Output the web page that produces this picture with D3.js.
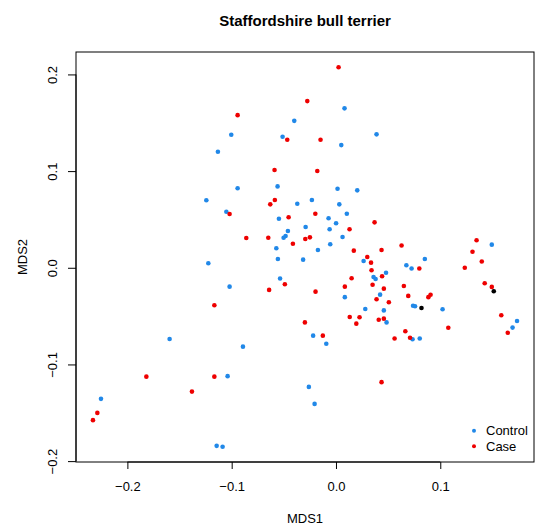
<!DOCTYPE html>
<html>
<head>
<meta charset="utf-8">
<script src="https://cdn.jsdelivr.net/npm/d3@7"></script>
<style>
  body { margin: 0; background: #fff; }
  text { font-family: Helvetica, Arial, "Liberation Sans", sans-serif; }
</style>
</head>
<body>
<svg id="mds"></svg>
<script>
// MDS coordinates, [MDS1, MDS2]
var controlPts = [
  [-0.1004, 0.1376], [-0.1132, 0.1200], [-0.0943, 0.0822], [-0.1243, 0.0698],
  [-0.1051, 0.0580], [-0.1224, 0.0047], [-0.1020, -0.0195], [-0.1595, -0.0736],
  [-0.0892, -0.0816], [-0.1039, -0.1121], [-0.2253, -0.1356], [-0.1144, -0.1842],
  [-0.1087, -0.1852], [0.0082, 0.1649], [-0.0400, 0.1520], [-0.0512, 0.1355],
  [0.0389, 0.1380], [0.0051, 0.1269], [-0.0560, 0.0842], [0.0015, 0.0818],
  [0.0204, 0.0801], [-0.0371, 0.0663], [-0.0231, 0.0701], [0.0032, 0.0656],
  [0.0104, 0.0559], [-0.0547, 0.0507], [-0.0071, 0.0512], [0.0001, 0.0460],
  [-0.0291, 0.0422], [-0.0061, 0.0398], [-0.0461, 0.0380], [-0.0483, 0.0329],
  [-0.0502, 0.0311], [0.0063, 0.0318], [-0.0055, 0.0243], [-0.0572, 0.0202],
  [-0.0173, 0.0184], [-0.0557, 0.0091], [-0.0315, 0.0084], [0.0265, 0.0070],
  [0.0480, -0.0051], [0.0360, -0.0095], [0.0380, -0.0116], [-0.0536, -0.0111],
  [0.0675, 0.0026], [0.0725, -0.0007], [0.0852, 0.0091], [0.1494, 0.0239],
  [0.0085, -0.0304], [0.0423, -0.0278], [0.0281, -0.0426], [0.0459, -0.0441],
  [0.0485, -0.0565], [-0.0219, -0.0702], [-0.0093, -0.0786], [-0.0260, -0.1232],
  [-0.0205, -0.1408], [0.0739, -0.0393], [0.0758, -0.0398], [0.1022, -0.0429],
  [0.0734, -0.0739], [0.0803, -0.0731], [0.1736, -0.0550], [0.1693, -0.0619]
];
var casePts = [
  [-0.0943, 0.1579], [-0.1020, 0.0556], [-0.0860, 0.0308], [-0.0649, 0.0311],
  [-0.0630, 0.0656], [-0.0641, -0.0229], [-0.1166, -0.0388], [-0.1818, -0.1126],
  [-0.1166, -0.1126], [-0.1381, -0.1281], [-0.2288, -0.1501], [-0.2330, -0.1576],
  [0.0025, 0.2075], [-0.0275, 0.1724], [-0.0467, 0.1324], [-0.0148, 0.1324],
  [-0.0589, 0.1011], [-0.0179, 0.1001], [-0.0586, 0.0701], [-0.0454, 0.0522],
  [-0.0198, 0.0559], [0.0370, 0.0470], [0.0130, 0.0398], [-0.0294, 0.0298],
  [-0.0250, 0.0315], [-0.0413, 0.0249], [0.0171, 0.0177], [0.0437, 0.0184],
  [0.0629, 0.0230], [0.0300, 0.0112], [0.0336, 0.0053], [0.0341, -0.0025],
  [0.0442, -0.0088], [0.0150, -0.0109], [0.0799, -0.0008], [0.1348, 0.0284],
  [0.1309, 0.0166], [0.1398, 0.0065], [0.1235, 0.0001], [0.0351, -0.0175],
  [-0.0490, -0.0170], [-0.0196, -0.0247], [0.0085, -0.0195], [0.0389, -0.0325],
  [0.0459, -0.0216], [0.0507, -0.0357], [0.0132, -0.0509], [0.0226, -0.0512],
  [0.0195, -0.0578], [0.0410, -0.0537], [0.0459, -0.0526], [-0.0298, -0.0565],
  [-0.0126, -0.0702], [0.0437, -0.1183], [0.0651, -0.0188], [0.0693, -0.0291],
  [0.0886, -0.0304], [0.0907, -0.0279], [0.1077, -0.0620], [0.0665, -0.0656],
  [0.0562, -0.0731], [0.0710, -0.0724], [0.1426, -0.0160], [0.1494, -0.0198],
  [0.1585, -0.0491], [0.1647, -0.0672]
];
var otherPts = [[0.0820, -0.0416], [0.1513, -0.0243]];

var xTicks = [-0.2, -0.1, 0.0, 0.1];
var yTicks = [-0.2, -0.1, 0.0, 0.1, 0.2];
var legendLabels = ["Control", "Case"];

var W = 536, H = 530;
var margin = { top: 52, right: 2, bottom: 68, left: 76 };
var width = W - margin.left - margin.right,
  height = H - margin.top - margin.bottom;

var blue = "#2188e8", red = "#ee0000";

var allPts = controlPts.concat(casePts, otherPts);

// R style: data range plus 4% on each side
function rRange(vals) {
  var e = d3.extent(vals), pad = (e[1] - e[0]) * 0.04;
  return [e[0] - pad, e[1] + pad];
}

var x = d3.scaleLinear()
  .domain(rRange(allPts.map(function (d) { return d[0]; })))
  .range([0, width]);
var y = d3.scaleLinear()
  .domain(rRange(allPts.map(function (d) { return d[1]; })))
  .range([height, 0]);

var svg = d3.select("#mds").attr("width", W).attr("height", H);
var g = svg.append("g")
  .attr("transform", "translate(" + margin.left + "," + margin.top + ")");

// x axis
var xAxis = g.append("g")
  .attr("transform", "translate(0," + height + ")")
  .call(d3.axisBottom(x).tickValues(xTicks).tickSize(7).tickPadding(13)
    .tickFormat(function (d) { return d3.format(".1f")(d).replace("-", "\u2212"); }));
xAxis.select(".domain")
  .attr("d", "M" + x(xTicks[0]) + ",0H" + x(xTicks[xTicks.length - 1]));

// y axis with rotated labels
var yAxis = g.append("g")
  .call(d3.axisLeft(y).tickValues(yTicks).tickSize(8)
    .tickFormat(function (d) { return d3.format(".1f")(d).replace("-", "\u2212"); }));
yAxis.select(".domain")
  .attr("d", "M0," + y(yTicks[0]) + "V" + y(yTicks[yTicks.length - 1]));
yAxis.selectAll(".tick text")
  .attr("x", 0)
  .attr("dy", "0.35em")
  .attr("text-anchor", "middle")
  .attr("transform", "translate(-24,0) rotate(-90)");

g.selectAll(".tick text").attr("font-size", "13px").attr("fill", "#000")
  .attr("font-family", "Helvetica, Arial, 'Liberation Sans', sans-serif");
g.selectAll(".domain, .tick line").attr("stroke", "#000");

// box
g.append("rect")
  .attr("x", 0).attr("y", 0)
  .attr("width", width).attr("height", height)
  .attr("fill", "none")
  .attr("stroke", "#000");

// points
function drawPts(data, col) {
  g.append("g").selectAll("circle")
    .data(data)
    .enter()
    .append("circle")
    .attr("cx", function (d) { return x(d[0]); })
    .attr("cy", function (d) { return y(d[1]); })
    .attr("r", 2.3)
    .attr("fill", col);
}
drawPts(controlPts, blue);
drawPts(casePts, red);
drawPts(otherPts, "#000");

// legend
var legend = g.append("g").attr("transform", "translate(" + (474 - margin.left) + "," + (430.7 - margin.top) + ")");
legend.selectAll("circle")
  .data(legendLabels)
  .enter()
  .append("circle")
  .attr("cx", 0)
  .attr("cy", function (d, i) { return i * 15.5; })
  .attr("r", 2)
  .attr("fill", function (d, i) { return i === 0 ? blue : red; });
legend.selectAll("text")
  .data(legendLabels)
  .enter()
  .append("text")
  .attr("x", 12)
  .attr("y", function (d, i) { return i * 15.5; })
  .attr("dy", "0.35em")
  .attr("font-size", "13px")
  .text(function (d) { return d; });

// titles
svg.append("text")
  .attr("x", margin.left + width / 2)
  .attr("y", 25.5)
  .attr("text-anchor", "middle")
  .attr("font-size", "15px")
  .attr("font-weight", "bold")
  .text("Staffordshire bull terrier");

svg.append("text")
  .attr("x", margin.left + width / 2)
  .attr("y", 522.7)
  .attr("text-anchor", "middle")
  .attr("font-size", "13px")
  .text("MDS1");

svg.append("text")
  .attr("transform", "translate(22.5," + (margin.top + height / 2) + ") rotate(-90)")
  .attr("dy", "0.35em")
  .attr("text-anchor", "middle")
  .attr("font-size", "13px")
  .text("MDS2");
</script>
</body>
</html>
